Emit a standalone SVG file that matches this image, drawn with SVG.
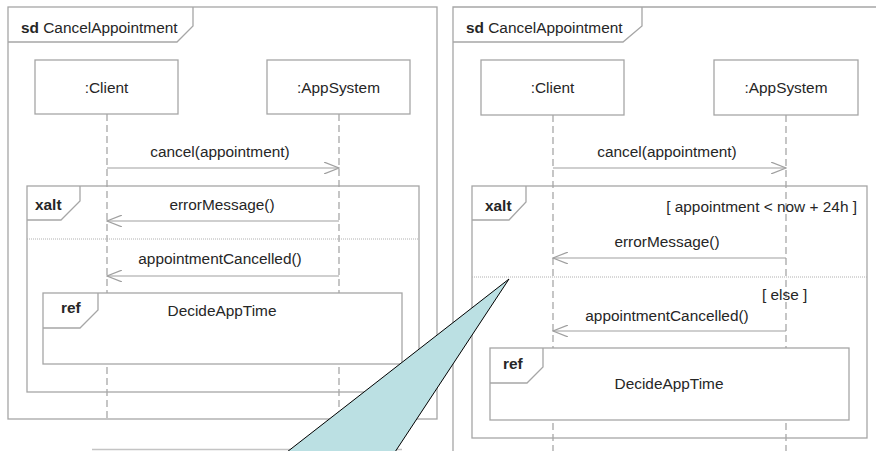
<svg xmlns="http://www.w3.org/2000/svg" width="876" height="451" viewBox="0 0 876 451">
<defs>
<style>
.frame{fill:none;stroke:#a6a6a6;stroke-width:1.3}
.box{fill:#fff;stroke:#a6a6a6;stroke-width:1.3}
.life{stroke:#a0a0a0;stroke-width:1.2;stroke-dasharray:7,4;fill:none}
.msg{stroke:#a0a0a0;stroke-width:1.2;fill:none}
.sep{stroke:#b0b0b0;stroke-width:1;stroke-dasharray:1,1}
text{font-family:"Liberation Sans",Arial,sans-serif;font-size:15.4px;fill:#262626}
.b{font-weight:bold}
.c{text-anchor:middle}
.r{text-anchor:end}
</style>
<marker id="open" markerWidth="16" markerHeight="12" refX="15" refY="6" orient="auto" markerUnits="userSpaceOnUse">
<path d="M0,0 L15,6 L0,12" fill="none" stroke="#a0a0a0" stroke-width="1.2"/>
</marker>
</defs>
<rect width="876" height="451" fill="#fff"/>

<!-- LEFT DIAGRAM -->
<g id="left-frame">
<rect class="frame" x="8" y="7" width="429" height="412"/>
<path class="frame" d="M8,42 H177 L193,26 V7"/>
<text x="21" y="33"><tspan class="b">sd</tspan> CancelAppointment</text>
</g>
<g id="left-lifelines">
<line class="life" x1="107" y1="114" x2="107" y2="419"/>
<line class="life" x1="339" y1="114" x2="339" y2="419"/>
</g>
<g id="left-client">
<rect class="box" x="35" y="60" width="143" height="54"/>
<text class="c" x="106.5" y="93">:Client</text>
</g>
<g id="left-appsystem">
<rect class="box" x="267" y="60" width="143" height="54"/>
<text class="c" x="338.5" y="93">:AppSystem</text>
</g>
<g id="left-xalt">
<rect class="frame" x="27" y="186" width="392" height="206"/>
<path class="frame" d="M27,220 H61 L80,201 V186"/>
<text class="b" x="35" y="210">xalt</text>
<line class="sep" x1="27" y1="239" x2="419" y2="239"/>
</g>
<g id="left-messages">
<line class="msg" x1="107" y1="168" x2="339" y2="168" marker-end="url(#open)"/>
<text class="c" x="220" y="157">cancel(appointment)</text>
<line class="msg" x1="339" y1="221" x2="107" y2="221" marker-end="url(#open)"/>
<text class="c" x="222" y="210">errorMessage()</text>
<line class="msg" x1="339" y1="276" x2="107" y2="276" marker-end="url(#open)"/>
<text class="c" x="220" y="264">appointmentCancelled()</text>
</g>
<g id="left-ref">
<rect class="box" x="43" y="293" width="359" height="71"/>
<path class="frame" d="M43,328 H80 L98,310 V293"/>
<text class="b" x="61" y="313">ref</text>
<text class="c" x="222" y="316">DecideAppTime</text>
</g>

<!-- RIGHT DIAGRAM -->
<g id="right-frame">
<path class="frame" d="M453,452 V7 H878"/>
<path class="frame" d="M453,42 H623 L642,26 V7"/>
<text x="466" y="33"><tspan class="b">sd</tspan> CancelAppointment</text>
</g>
<g id="right-lifelines">
<line class="life" x1="553" y1="115" x2="553" y2="451"/>
<line class="life" x1="786" y1="115" x2="786" y2="451"/>
</g>
<g id="right-client">
<rect class="box" x="481" y="60" width="143" height="55"/>
<text class="c" x="552.5" y="93">:Client</text>
</g>
<g id="right-appsystem">
<rect class="box" x="714" y="60" width="144" height="55"/>
<text class="c" x="786" y="93">:AppSystem</text>
</g>
<g id="right-xalt">
<rect class="frame" x="472" y="186" width="395" height="252"/>
<path class="frame" d="M472,220 H509 L526,202 V186"/>
<text class="b" x="485" y="211">xalt</text>
<text class="r" x="857" y="212">[ appointment &lt; now + 24h ]</text>
<line class="sep" x1="472" y1="277" x2="867" y2="277"/>
<text x="762" y="300">[ else ]</text>
</g>
<g id="right-messages">
<line class="msg" x1="553" y1="168" x2="786" y2="168" marker-end="url(#open)"/>
<text class="c" x="667" y="157">cancel(appointment)</text>
<line class="msg" x1="786" y1="258" x2="553" y2="258" marker-end="url(#open)"/>
<text class="c" x="667" y="247">errorMessage()</text>
<line class="msg" x1="786" y1="331" x2="553" y2="331" marker-end="url(#open)"/>
<text class="c" x="667" y="321">appointmentCancelled()</text>
</g>
<g id="right-ref">
<rect class="box" x="490" y="348" width="359" height="72"/>
<path class="frame" d="M490,383 H527 L543,367 V348"/>
<text class="b" x="503" y="369">ref</text>
<text class="c" x="669" y="389">DecideAppTime</text>
</g>

<!-- CALLOUT -->
<g id="callout">
<line x1="92" y1="449.5" x2="402" y2="449.5" stroke="#c4c4c4" stroke-width="1.5"/>
<polygon points="509,279 287,452 395,452" fill="#bbe0e3" stroke="#000" stroke-width="1"/>
</g>
</svg>
